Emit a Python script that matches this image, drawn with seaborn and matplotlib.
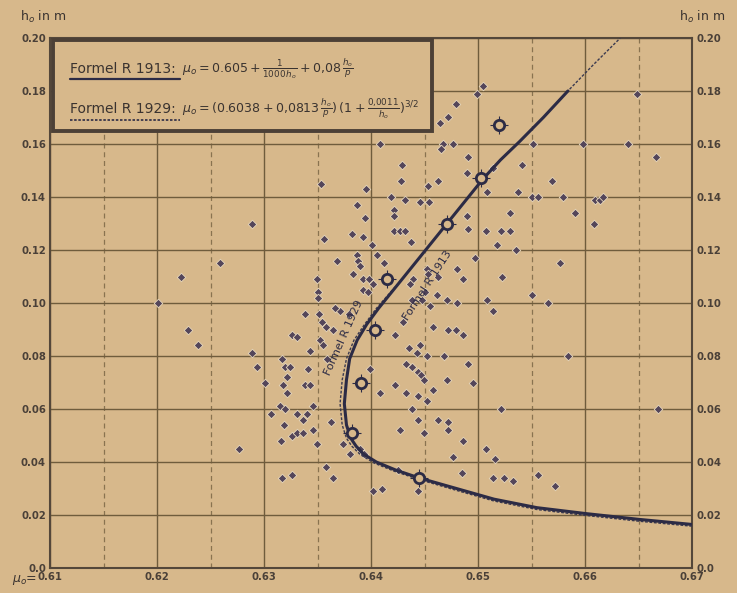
import numpy as np
import pandas as pd
import matplotlib.pyplot as plt
import seaborn as sns
from matplotlib.patches import Rectangle

# measured points (mu_o, h_o in m)
mu_obs = [0.6353, 0.6289, 0.6356, 0.6259, 0.6222, 0.6349, 0.6350, 0.6201, 0.6229, 0.6238,
          0.6277, 0.6289, 0.6293, 0.6301, 0.6317, 0.6320, 0.6324, 0.6321, 0.6318, 0.6321,
          0.6338, 0.6343, 0.6338, 0.6351, 0.6354, 0.6358, 0.6326, 0.6331, 0.6352, 0.6355,
          0.6343, 0.6359, 0.6341, 0.6315, 0.6320, 0.6306, 0.6331, 0.6346, 0.6340, 0.6336,
          0.6319, 0.6346, 0.6326, 0.6331, 0.6336, 0.6316, 0.6349, 0.6358, 0.6317, 0.6326,
          0.6364, 0.6350, 0.6371, 0.6379, 0.6364, 0.6363, 0.6374, 0.6380, 0.6390, 0.6393,
          0.6368, 0.6383, 0.6392, 0.6398, 0.6402, 0.6392, 0.6397, 0.6387, 0.6388, 0.6390,
          0.6406, 0.6412, 0.6401, 0.6382, 0.6392, 0.6421, 0.6427, 0.6432, 0.6437, 0.6394,
          0.6421, 0.6421, 0.6387, 0.6419, 0.6432, 0.6446, 0.6454, 0.6395, 0.6453, 0.6429,
          0.6428, 0.6463, 0.6490, 0.6491, 0.6408, 0.6467, 0.6477, 0.6465, 0.6479, 0.6472,
          0.6464, 0.6505, 0.6499, 0.6541, 0.6514, 0.6537, 0.6508, 0.6530, 0.6490, 0.6491,
          0.6507, 0.6521, 0.6530, 0.6518, 0.6535, 0.6497, 0.6480, 0.6452, 0.6453, 0.6463,
          0.6486, 0.6522, 0.6439, 0.6436, 0.6450, 0.6462, 0.6438, 0.6448, 0.6455, 0.6471,
          0.6480, 0.6508, 0.6514, 0.6430, 0.6458, 0.6472, 0.6479, 0.6486, 0.6422, 0.6435,
          0.6446, 0.6443, 0.6452, 0.6468, 0.6491, 0.6399, 0.6433, 0.6438, 0.6444, 0.6447,
          0.6449, 0.6471, 0.6495, 0.6422, 0.6408, 0.6433, 0.6444, 0.6452, 0.6458, 0.6438,
          0.6521, 0.6444, 0.6463, 0.6472, 0.6472, 0.6427, 0.6449, 0.6486, 0.6507, 0.6477,
          0.6516, 0.6485, 0.6514, 0.6524, 0.6533, 0.6425, 0.6402, 0.6410, 0.6444, 0.6556,
          0.6572, 0.6649, 0.6551, 0.6598, 0.6640, 0.6666, 0.6569, 0.6550, 0.6556, 0.6579,
          0.6609, 0.6614, 0.6617, 0.6591, 0.6608, 0.6577, 0.6550, 0.6565, 0.6584, 0.6668,
          0.6366]
h_obs = [0.145, 0.130, 0.124, 0.115, 0.110, 0.109, 0.104, 0.100, 0.090, 0.084,
         0.045, 0.081, 0.076, 0.070, 0.079, 0.076, 0.076, 0.072, 0.069, 0.066,
         0.069, 0.069, 0.096, 0.096, 0.093, 0.091, 0.088, 0.087, 0.086, 0.084,
         0.082, 0.079, 0.075, 0.061, 0.060, 0.058, 0.058, 0.061, 0.058, 0.056,
         0.054, 0.052, 0.050, 0.051, 0.051, 0.048, 0.047, 0.038, 0.034, 0.035,
         0.034, 0.102, 0.097, 0.096, 0.090, 0.055, 0.047, 0.043, 0.045, 0.043,
         0.116, 0.111, 0.109, 0.109, 0.107, 0.105, 0.104, 0.118, 0.116, 0.114,
         0.118, 0.115, 0.122, 0.126, 0.125, 0.127, 0.127, 0.127, 0.123, 0.132,
         0.135, 0.133, 0.137, 0.140, 0.139, 0.138, 0.138, 0.143, 0.144, 0.152,
         0.146, 0.146, 0.149, 0.155, 0.160, 0.160, 0.160, 0.158, 0.175, 0.170,
         0.168, 0.182, 0.179, 0.152, 0.151, 0.142, 0.142, 0.134, 0.133, 0.128,
         0.127, 0.127, 0.127, 0.122, 0.120, 0.117, 0.113, 0.113, 0.111, 0.110,
         0.109, 0.110, 0.109, 0.107, 0.104, 0.103, 0.101, 0.101, 0.099, 0.101,
         0.100, 0.101, 0.097, 0.093, 0.091, 0.090, 0.090, 0.088, 0.088, 0.083,
         0.084, 0.081, 0.080, 0.080, 0.077, 0.075, 0.077, 0.076, 0.074, 0.073,
         0.071, 0.071, 0.070, 0.069, 0.066, 0.066, 0.065, 0.063, 0.067, 0.060,
         0.060, 0.056, 0.056, 0.055, 0.052, 0.052, 0.051, 0.048, 0.045, 0.042,
         0.041, 0.036, 0.034, 0.034, 0.033, 0.037, 0.029, 0.030, 0.029, 0.035,
         0.031, 0.179, 0.160, 0.160, 0.160, 0.155, 0.146, 0.140, 0.140, 0.140,
         0.139, 0.139, 0.140, 0.134, 0.130, 0.115, 0.103, 0.100, 0.080, 0.060,
         0.098]

# mean values (open circles)
mu_mean = [0.6382, 0.6391, 0.6404, 0.6415, 0.6471, 0.6503, 0.6520, 0.6445]
h_mean = [0.051, 0.070, 0.090, 0.109, 0.130, 0.147, 0.167, 0.034]

# Formel R 1913 curve
mu_1913 = [0.6699, 0.6650, 0.6600, 0.6555, 0.6515, 0.6480, 0.6445, 0.6423, 0.6405, 0.6393,
           0.6386, 0.6381, 0.6377, 0.6375, 0.6377, 0.6380, 0.6387, 0.6396, 0.6407, 0.6419,
           0.6431, 0.6445, 0.6459, 0.6471, 0.6487, 0.6505, 0.6521, 0.6539, 0.6561, 0.6584]
h_1913 = [0.0165, 0.0184, 0.0206, 0.0228, 0.0260, 0.0300, 0.0340, 0.0370, 0.0400, 0.0430,
          0.0460, 0.0490, 0.0540, 0.0620, 0.0710, 0.0790, 0.0860, 0.0920, 0.0980, 0.1040,
          0.1100, 0.1170, 0.1240, 0.1300, 0.1380, 0.1470, 0.1540, 0.1610, 0.1700, 0.1800]

# Formel R 1929 curve
mu_1929 = [0.6700, 0.6650, 0.6600, 0.6555, 0.6515, 0.6480, 0.6445, 0.6422, 0.6403, 0.6390,
           0.6382, 0.6377, 0.6373, 0.6371, 0.6373, 0.6377, 0.6384, 0.6394, 0.6405, 0.6418,
           0.6431, 0.6445, 0.6459, 0.6471, 0.6487, 0.6505, 0.6521, 0.6539, 0.6561, 0.6584,
           0.6608, 0.6633]
h_1929 = [0.0158, 0.0177, 0.0199, 0.0221, 0.0253, 0.0293, 0.0334, 0.0365, 0.0396, 0.0428,
          0.0460, 0.0490, 0.0540, 0.0620, 0.0710, 0.0790, 0.0860, 0.0920, 0.0980, 0.1040,
          0.1100, 0.1170, 0.1240, 0.1300, 0.1380, 0.1470, 0.1540, 0.1610, 0.1700, 0.1800,
          0.1900, 0.2000]

x_ticks = [0.61, 0.62, 0.63, 0.64, 0.65, 0.66, 0.67]
x_labels = ['0.61', '0.62', '0.63', '0.64', '0.65', '0.66', '0.67']
y_ticks = [0.0, 0.02, 0.04, 0.06, 0.08, 0.10, 0.12, 0.14, 0.16, 0.18, 0.20]
y_labels = ['0.0', '0.02', '0.04', '0.06', '0.08', '0.10', '0.12', '0.14', '0.16', '0.18', '0.20']

paper = '#d7b88b'
ink = '#2c2b45'
grid = '#6f5c3c'
label_col = '#4a4038'
text_col = '#3a3330'

sns.set_theme(style='white')
plt.rcParams['font.family'] = ['DejaVu Sans']
plt.rcParams['mathtext.fontset'] = 'dejavusans'

fig = plt.figure(figsize=(7.37, 5.93), dpi=100, facecolor=paper)
ax = fig.add_axes([0.068, 0.042, 0.871, 0.894])
ax.set_facecolor(paper)

ax.set_xlim(0.61, 0.67)
ax.set_ylim(0.0, 0.20)
ax.set_xticks(x_ticks)
ax.set_xticks(np.arange(0.615, 0.67, 0.01), minor=True)
ax.set_xticklabels(x_labels)
ax.set_yticks(y_ticks)
ax.set_yticklabels(y_labels)
ax.tick_params(axis='both', which='both', length=0, labelsize=8, labelcolor=label_col, pad=3)
ax.tick_params(axis='y', labelright=True)
for lab in ax.get_xticklabels() + ax.get_yticklabels():
    lab.set_fontstretch('condensed')
    lab.set_fontweight('bold')

ax.grid(True, axis='x', which='major', color=grid, lw=1.0, ls='-')
ax.grid(True, axis='x', which='minor', color=grid, lw=0.9, ls=(0, (4, 3)), alpha=0.75)
ax.grid(True, axis='y', which='major', color=grid, lw=1.0, ls='-')
for s in ax.spines.values():
    s.set_color('#54473a')
    s.set_linewidth(1.5)

# measurements
sns.scatterplot(x=mu_obs, y=h_obs, marker='D', s=19, color='#54465a',
                edgecolor='#e6d6bb', linewidth=0.6, ax=ax, zorder=3)

# theory curves
sns.lineplot(x=mu_1929, y=h_1929, sort=False, estimator=None, color='#3b3a50',
             lw=1.0, ls=(0, (2, 1.2)), ax=ax, zorder=4)
sns.lineplot(x=mu_1913, y=h_1913, sort=False, estimator=None, color=ink,
             lw=2.2, ax=ax, zorder=4)

# mean values
sns.scatterplot(x=mu_mean, y=h_mean, marker='+', s=150, color=ink, linewidth=0.8,
                ax=ax, zorder=5)
sns.scatterplot(x=mu_mean, y=h_mean, marker='o', s=55, color=paper, edgecolor=ink,
                linewidth=2.0, ax=ax, zorder=6)

ax.text(0.6374, 0.0870, 'Formel R 1929', rotation=66, fontsize=8, color=ink,
        ha='center', va='center', zorder=5)
ax.text(0.6453, 0.1065, 'Formel R 1913', rotation=57, fontsize=8, color=ink,
        ha='center', va='center', zorder=5)

# formula box
ax.add_patch(Rectangle((0.004, 0.825), 0.591, 0.172, transform=ax.transAxes,
                       facecolor=paper, edgecolor='#4c4036', lw=2.8, zorder=7))
ax.text(0.031, 0.942, 'Formel R 1913:', transform=ax.transAxes, fontsize=10,
        color=text_col, va='center', zorder=8)
ax.plot([0.031, 0.203], [0.922, 0.922], transform=ax.transAxes, color=ink, lw=1.6, zorder=8)
ax.text(0.205, 0.942, r'$\mu_o = 0.605 + \frac{1}{1000\,h_o} + 0{,}08\,\frac{h_o}{p}$',
        transform=ax.transAxes, fontsize=9, color=text_col, va='center', zorder=8)
ax.text(0.031, 0.866, 'Formel R 1929:', transform=ax.transAxes, fontsize=10,
        color=text_col, va='center', zorder=8)
ax.plot([0.031, 0.203], [0.846, 0.846], transform=ax.transAxes, color=ink, lw=1.2,
        ls=(0, (1.5, 1)), zorder=8)
ax.text(0.205, 0.866,
        r'$\mu_o = (0.6038 + 0{,}0813\,\frac{h_o}{p})\,(1 + \frac{0{,}0011}{h_o})^{3/2}$',
        transform=ax.transAxes, fontsize=9, color=text_col, va='center', zorder=8)

# axis captions
fig.text(0.058, 0.972, r'h$_o$ in m', fontsize=9, color=text_col, ha='center', va='center')
fig.text(0.953, 0.972, r'h$_o$ in m', fontsize=9, color=text_col, ha='center', va='center')
fig.text(0.033, 0.022, r'$\mu_o$=', fontsize=9, color=text_col, ha='center', va='center')

fig.savefig('out.png', dpi=100, facecolor=paper)
